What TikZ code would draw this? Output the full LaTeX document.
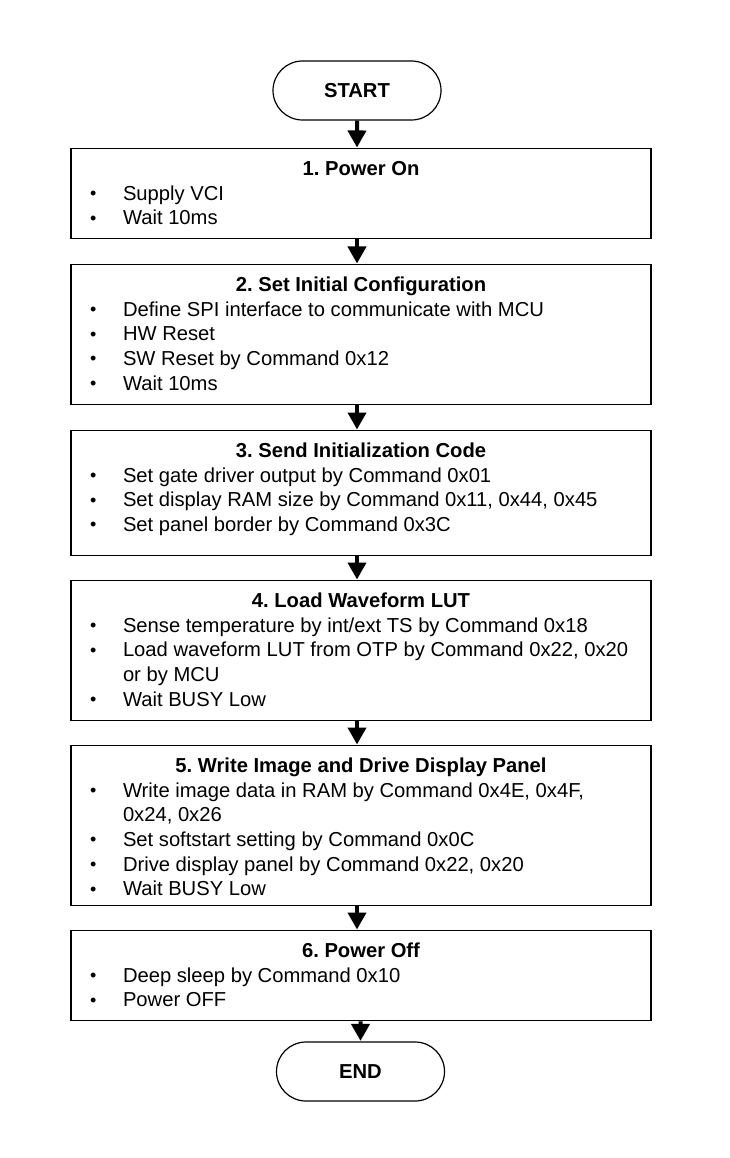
\documentclass[tikz,border=0pt]{standalone}
\usepackage{fontspec}
\setmainfont{Liberation Sans}
\usetikzlibrary{arrows.meta,shapes.misc,positioning}

\tikzset{
  term/.style={draw, rounded rectangle, line width=1.2pt, minimum width=168pt,
    minimum height=59pt, inner sep=0pt, font=\bfseries\fontsize{20.2}{22}\selectfont},
  stage/.style={draw, line width=1.3pt, inner sep=0pt, anchor=north},
  flow/.style={-{Triangle[width=18pt,length=17pt]}, line width=4pt, shorten >=0.5pt},
}
\newcommand{\bul}{\par\noindent\hangindent=52pt\hangafter=1\hspace*{19pt}%
  \makebox[33pt][l]{\raisebox{0.5pt}{\fontsize{18}{18}\selectfont\textbullet}}}
\newcommand{\stagetext}[3]{\parbox[c][#1][t]{580pt}{\fontsize{20.2}{24.6}\selectfont
  \frenchspacing\centerline{\rule{0pt}{27pt}\bfseries #2}#3}}

\begin{document}
\begin{tikzpicture}[x=1pt,y=1pt]
        \useasboundingbox (0,0) rectangle (730,-1158);
        \node[term] (start) at (357,-90.5) {START};
        \node[stage] (b1) at (361,-148) {\stagetext{90pt}{1. Power On}{%
          \bul Supply VCI
          \bul Wait 10ms}};
        \node[stage] (b2) at (361,-264) {\stagetext{140pt}{2. Set Initial Configuration}{%
          \bul Define SPI interface to communicate with MCU
          \bul HW Reset
          \bul SW Reset by Command 0x12
          \bul Wait 10ms}};
        \node[stage] (b3) at (361,-430) {\stagetext{125pt}{3. Send Initialization Code}{%
          \bul Set gate driver output by Command 0x01
          \bul Set display RAM size by Command 0x11, 0x44, 0x45
          \bul Set panel border by Command 0x3C}};
        \node[stage] (b4) at (361,-580) {\stagetext{140pt}{4. Load Waveform LUT}{%
          \bul Sense temperature by int/ext TS by Command 0x18
          \bul Load waveform LUT from OTP by Command 0x22, 0x20\\or by MCU
          \bul Wait BUSY Low}};
        \node[stage] (b5) at (361,-745) {\stagetext{160pt}{5. Write Image and Drive Display Panel}{%
          \bul Write image data in RAM by Command 0x4E, 0x4F,\\0x24, 0x26
          \bul Set softstart setting by Command 0x0C
          \bul Drive display panel by Command 0x22, 0x20
          \bul Wait BUSY Low}};
        \node[stage] (b6) at (361,-930) {\stagetext{90pt}{6. Power Off}{%
          \bul Deep sleep by Command 0x10
          \bul Power OFF}};
        \node[term] (end) at (360.5,-1071.5) {END};
        % connectors
        \draw[flow] (start) -- (start |- b1.north);
        \draw[flow] (b1.south -| start) -- (b2.north -| start);
        \draw[flow] (b2.south -| start) -- (b3.north -| start);
        \draw[flow] (b3.south -| start) -- (b4.north -| start);
        \draw[flow] (b4.south -| start) -- (b5.north -| start);
        \draw[flow] (b5.south -| start) -- (b6.north -| start);
        \draw[flow] (b6.south -| end) -- (end);
\end{tikzpicture}
\end{document}
